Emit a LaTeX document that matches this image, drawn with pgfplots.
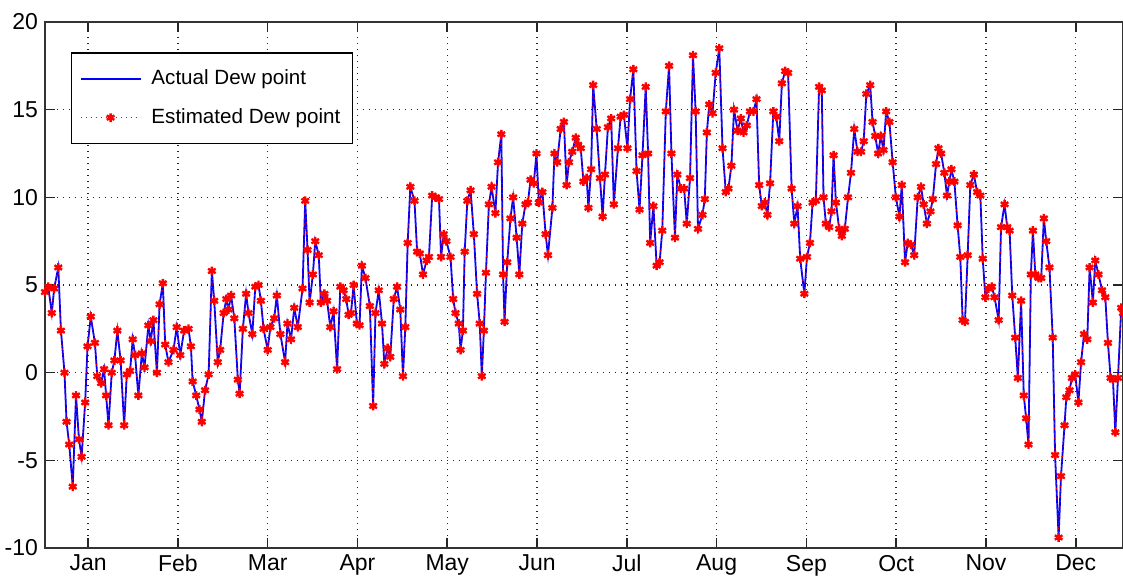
\documentclass[border=0pt]{standalone}
\usepackage{fontspec}
\setmainfont{Liberation Sans}
\usepackage{pgfplots}
\usepackage{pgfplotstable}
\pgfplotsset{compat=1.18}

% daily dew point (x = day of year)
\pgfplotstableread[row sep=\\]{
day dew\\
0 4.6\\ 1.1 4.9\\ 2.3 3.4\\ 3.1 4.8\\ 4.5 6.0\\ 5.4 2.4\\ 6.6 0.0\\ 7.3 -2.8\\ 8.2 -4.1\\ 9.4 -6.5\\
10.5 -1.3\\ 11.5 -3.8\\ 12.4 -4.8\\ 13.6 -1.7\\ 14.4 1.5\\ 15.5 3.2\\ 16.9 1.7\\ 17.7 -0.2\\ 19.0 -0.6\\ 20.0 0.2\\
20.7 -1.3\\ 21.5 -3.0\\ 22.6 0.0\\ 23.5 0.7\\ 24.5 2.4\\ 25.6 0.7\\ 26.8 -3.0\\ 27.7 -0.1\\ 28.8 0.1\\ 29.7 1.9\\
30.5 1.0\\ 31.6 -1.3\\ 32.8 1.1\\ 33.7 0.3\\ 35.0 2.7\\ 35.8 1.8\\ 36.7 3.0\\ 37.9 0.0\\ 38.8 3.9\\ 39.9 5.1\\
40.7 1.6\\ 41.8 0.6\\ 43.5 1.3\\ 44.6 2.6\\ 45.8 1.0\\ 47.1 2.4\\ 48.6 2.5\\ 49.4 1.5\\ 50.0 -0.5\\ 51.2 -1.3\\
52.3 -2.1\\ 53.1 -2.8\\ 54.2 -1.0\\ 55.4 -0.1\\ 56.5 5.8\\ 57.3 4.1\\ 58.5 0.6\\ 59.3 1.3\\ 60.5 3.4\\ 61.4 4.2\\
62.1 3.6\\ 63.0 4.4\\ 64.1 3.1\\ 65.3 -0.4\\ 65.9 -1.2\\ 67.0 2.5\\ 68.1 4.5\\ 68.9 3.4\\ 70.2 2.2\\ 71.2 4.9\\
72.3 5.0\\ 73.1 4.1\\ 74.0 2.5\\ 75.4 1.3\\ 76.3 2.6\\ 77.6 3.1\\ 78.5 4.4\\ 79.7 2.2\\ 81.3 0.6\\ 82.1 2.8\\
83.3 1.9\\ 84.4 3.7\\ 85.6 2.6\\ 87.2 4.8\\ 88.1 9.8\\ 88.9 7.0\\ 89.6 4.0\\ 90.7 5.6\\ 91.5 7.5\\ 92.7 6.7\\
93.4 4.0\\ 94.6 4.5\\ 95.5 4.1\\ 96.6 2.6\\ 97.7 3.5\\ 98.9 0.2\\ 100.0 4.9\\ 101.1 4.7\\ 102.0 4.2\\ 102.8 3.3\\
103.6 3.4\\ 104.5 5.0\\ 105.6 2.8\\ 106.5 2.7\\ 107.3 6.1\\ 108.5 5.4\\ 110.0 3.8\\ 111.1 -1.9\\ 111.9 3.4\\ 113.0 4.7\\
114.1 2.8\\ 114.9 0.5\\ 116.0 1.4\\ 116.9 0.9\\ 118.1 4.2\\ 119.2 4.9\\ 120.3 3.6\\ 121.2 -0.2\\ 122.0 2.6\\ 122.8 7.4\\
123.7 10.6\\ 125.1 9.8\\ 126.0 6.9\\ 126.9 6.8\\ 128.0 5.6\\ 129.2 6.4\\ 130.0 6.6\\ 131.1 10.1\\ 132.2 10.0\\ 133.4 9.9\\
134.1 6.6\\ 135.0 7.9\\ 135.9 7.5\\ 137.3 6.6\\ 138.2 4.2\\ 139.0 3.4\\ 140.1 2.8\\ 140.7 1.3\\ 141.5 2.4\\ 142.1 6.9\\
143.0 9.8\\ 144.1 10.4\\ 145.2 7.9\\ 146.3 4.5\\ 147.2 2.8\\ 147.9 -0.2\\ 148.6 2.4\\ 149.3 5.7\\ 150.3 9.6\\ 151.2 10.6\\
152.5 9.1\\ 153.4 12.0\\ 154.5 13.6\\ 155.1 5.6\\ 155.6 2.9\\ 156.5 6.3\\ 157.6 8.8\\ 158.5 10.0\\ 159.7 7.7\\ 160.6 5.6\\
161.6 8.5\\ 162.7 9.6\\ 163.5 9.7\\ 164.4 11.0\\ 165.5 10.8\\ 166.4 12.5\\ 167.2 9.7\\ 168.4 10.3\\ 169.5 7.9\\ 170.3 6.7\\
171.8 9.4\\ 172.5 12.5\\ 173.4 12.0\\ 174.6 13.9\\ 175.7 14.3\\ 176.6 10.7\\ 177.4 12.0\\ 178.5 12.6\\ 179.7 13.4\\ 180.5 13.0\\
181.4 12.8\\ 182.3 10.9\\ 183.4 11.1\\ 184.0 9.4\\ 184.9 11.6\\ 185.6 16.4\\ 186.8 13.9\\ 187.9 11.1\\ 188.8 8.9\\ 189.6 11.3\\
190.6 14.0\\ 191.7 14.5\\ 192.6 9.6\\ 194.0 12.8\\ 194.9 14.6\\ 196.0 14.7\\ 197.2 12.8\\ 198.1 15.6\\ 199.2 17.3\\ 200.3 11.5\\
201.3 9.3\\ 202.3 12.4\\ 203.4 16.3\\ 204.2 12.5\\ 204.9 7.4\\ 206.0 9.5\\ 207.1 6.1\\ 208.1 6.3\\ 209.0 8.1\\ 210.2 14.9\\
211.3 17.5\\ 212.1 12.5\\ 213.3 7.7\\ 214.1 11.3\\ 215.3 10.5\\ 216.4 10.5\\ 217.3 8.5\\ 218.4 11.1\\ 219.4 18.1\\ 220.3 14.9\\
221.1 8.2\\ 222.6 9.0\\ 223.4 9.9\\ 224.1 13.7\\ 224.9 15.3\\ 226.0 14.8\\ 227.1 17.1\\ 228.3 18.5\\ 229.4 12.8\\ 230.5 10.3\\
231.4 10.5\\ 232.4 11.8\\ 233.3 15.0\\ 234.5 13.8\\ 235.6 14.5\\ 236.5 13.7\\ 237.6 14.1\\ 238.7 14.9\\ 239.9 14.9\\ 240.9 15.6\\
241.8 10.7\\ 242.7 9.5\\ 243.7 9.7\\ 244.6 9.0\\ 245.5 10.8\\ 246.6 14.9\\ 247.6 14.6\\ 248.6 13.2\\ 249.5 16.5\\ 250.6 17.2\\
251.6 17.1\\ 252.8 10.5\\ 253.7 8.5\\ 254.8 9.5\\ 255.7 6.5\\ 257.1 4.5\\ 258.0 6.6\\ 259.0 7.4\\ 259.9 9.7\\ 261.0 9.8\\
262.1 16.3\\ 263.0 16.1\\ 263.6 10.0\\ 264.4 8.5\\ 265.5 8.3\\ 266.3 9.2\\ 267.0 12.4\\ 267.8 9.7\\ 268.9 8.2\\ 269.8 7.8\\
270.8 8.2\\ 271.9 10.0\\ 272.9 11.4\\ 274.0 13.9\\ 275.1 12.6\\ 276.3 12.6\\ 277.2 13.2\\ 278.1 15.9\\ 279.4 16.4\\ 280.2 14.3\\
281.1 13.5\\ 282.1 12.5\\ 283.0 13.5\\ 283.9 12.7\\ 284.8 14.9\\ 285.9 14.3\\ 287.0 12.0\\ 288.1 10.0\\ 289.3 8.9\\ 290.1 10.7\\
291.2 6.3\\ 292.1 7.4\\ 293.2 7.3\\ 294.3 6.7\\ 295.5 10.0\\ 296.6 10.6\\ 297.5 9.6\\ 298.6 8.5\\ 299.8 9.2\\ 300.6 9.9\\
301.7 11.9\\ 302.5 12.8\\ 303.4 12.5\\ 304.5 11.4\\ 305.4 10.1\\ 306.2 10.9\\ 306.9 11.6\\ 307.9 10.9\\ 309.0 8.4\\ 309.9 6.6\\
310.7 3.0\\ 311.5 2.9\\ 312.4 6.7\\ 313.3 10.7\\ 314.5 11.3\\ 315.6 10.3\\ 316.7 10.1\\ 317.5 6.5\\ 318.4 4.3\\ 319.4 4.8\\
320.6 4.9\\ 321.5 4.3\\ 322.9 3.0\\ 323.7 8.3\\ 324.9 9.6\\ 325.8 8.3\\ 326.6 8.1\\ 327.5 4.4\\ 328.5 2.0\\ 329.4 -0.3\\
330.5 4.1\\ 331.4 -1.3\\ 332.2 -2.6\\ 333.0 -4.1\\ 333.8 5.6\\ 334.5 8.1\\ 335.3 5.6\\ 336.4 5.4\\ 337.3 5.4\\ 338.2 8.8\\
339.0 7.5\\ 340.1 6.0\\ 341.2 2.0\\ 342.0 -4.7\\ 343.2 -9.4\\ 344.0 -5.9\\ 345.2 -3.0\\ 345.8 -1.4\\ 346.9 -1.0\\ 347.7 -0.3\\
348.8 -0.1\\ 349.9 -1.7\\ 350.8 0.6\\ 351.8 2.2\\ 352.9 1.9\\ 353.7 6.0\\ 354.8 4.0\\ 355.6 6.4\\ 356.7 5.6\\ 357.9 4.7\\
359.0 4.3\\ 359.9 1.7\\ 360.8 -0.3\\ 361.6 -0.4\\ 362.4 -3.4\\ 363.3 -0.3\\ 364.4 3.7\\ 365.0 3.4\\
}\dewdata

\begin{document}
\begin{tikzpicture}
\begin{axis}[
    scale only axis,
    width=539pt, height=263pt,
    xmin=0, xmax=365,
    ymin=-10, ymax=20,
    ytick={-10,-5,0,5,10,15,20},
    xtick={14.6,45,75.4,105.8,136.2,166.6,197,227.4,257.8,288.2,318.6,349},
    xticklabels={Jan,Feb,Mar,Apr,May,Jun,Jul,Aug,Sep,Oct,Nov,Dec},
    grid=major,
    major grid style={black!85, line width=0.7pt, dash pattern=on 0.7pt off 2.3pt},
    tick align=inside,
    major tick length=5pt,
    every tick/.style={black!85, line width=0.8pt},
    axis line style={black!80, line width=0.7pt},
    tick label style={font=\fontsize{11.5}{13}\selectfont},
    /pgf/number format/assume math mode=true,
    legend cell align=left,
    legend style={at={(0.024,0.943)}, anchor=north west,
        draw=black, line width=0.8pt, fill=white,
        font=\fontsize{10.3}{12}\selectfont,
        inner xsep=4pt, inner ysep=6.5pt, row sep=6.5pt,
        /tikz/every odd column/.append style={column sep=3pt}},
    legend image code/.code={\draw[mark repeat=2, mark phase=2]
        plot coordinates {(0pt,0pt) (15pt,0pt) (30pt,0pt)};},
]
\addplot[blue, line width=0.9pt, mark=none] table[x=day, y=dew]{\dewdata};
\addlegendentry{Actual Dew point}
\addplot[red, line width=0.5pt, dotted, mark=asterisk, mark size=2.2pt,
    mark options={solid, line width=1.2pt}] table[x=day, y=dew]{\dewdata};
\addlegendentry{Estimated Dew point}
\end{axis}
\pgfresetboundingbox
\path ([shift={(-22.5pt,-17.5pt)}]current axis.south west)
    rectangle ([shift={(0pt,11pt)}]current axis.north east);
\end{tikzpicture}
\end{document}
